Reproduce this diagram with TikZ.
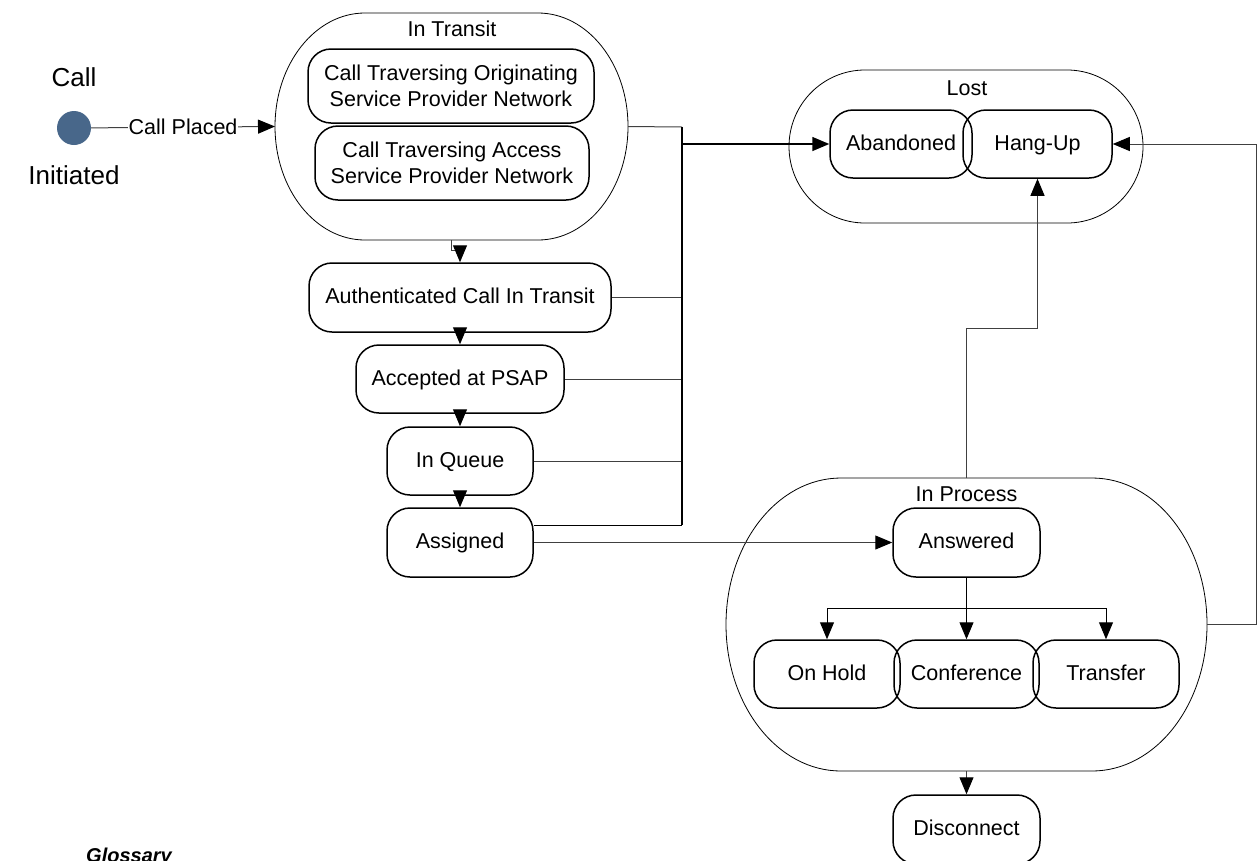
\documentclass[tikz,border=0pt]{standalone}
\usepackage{fontspec}
\setmainfont{Liberation Sans}
\usetikzlibrary{arrows.meta,calc}
\definecolor{initblue}{RGB}{72,103,138}
\newcommand\boxfont{\fontsize{21.5pt}{25.8pt}\selectfont}
\newcommand\bigfont{\fontsize{26pt}{31pt}\selectfont}
% x1 y1 x2 y2 rx ry  (pixel coordinates, y downward)
\newcommand\superstate[6]{%
 \draw[outer] (#1+#5,#2) -- (#3-#5,#2)
   arc[start angle=90,end angle=0,x radius=#5pt,y radius=#6pt] -- (#3,#4-#6)
   arc[start angle=0,end angle=-90,x radius=#5pt,y radius=#6pt] -- (#1+#5,#4)
   arc[start angle=-90,end angle=-180,x radius=#5pt,y radius=#6pt] -- (#1,#2+#6)
   arc[start angle=180,end angle=90,x radius=#5pt,y radius=#6pt] -- cycle;}
\begin{document}
\begin{tikzpicture}[x=1pt,y=-1pt,
 stbox/.style={draw,line width=1.5pt,rounded corners=23pt,inner sep=0pt,align=center,font=\boxfont},
 one/.style={text height=16pt,text depth=4pt},
 outer/.style={line width=0.8pt},
 anchorbox/.style={inner sep=0pt,outer sep=0pt},
 conn/.style={line width=1pt,black!75},
 bus/.style={line width=1.5pt,black},
 arr/.style={-{Triangle[length=17pt,width=14pt,black]}},
 lbl/.style={font=\boxfont,inner sep=0pt},
]
\useasboundingbox (0,0) rectangle (1257,860);

% initial state
\node[circle,fill=initblue,minimum size=34pt,inner sep=0pt] (init) at (74,128) {};
\node[font=\bigfont,inner sep=0pt] (calltxt) at (74,77) {Call};
\node[font=\bigfont,inner sep=0pt] (inittxt) at (74,175) {Initiated};

% super states (outline + anchor nodes)
\node[anchorbox,minimum width=353pt,minimum height=227pt] (transit) at (451.5,126.5) {};
\superstate{275}{13}{628}{240}{90}{113.5}
\node[lbl] (transitlbl) at (452,29) {In Transit};

\node[anchorbox,minimum width=354pt,minimum height=153pt] (lost) at (966,146.5) {};
\superstate{789}{70}{1143}{223}{76}{76.5}
\node[lbl] (lostlbl) at (967,88) {Lost};

\node[anchorbox,minimum width=481pt,minimum height=293pt] (process) at (966.5,624.5) {};
\superstate{726}{478}{1207}{771}{115}{146.5}
\node[lbl] (processlbl) at (966.5,494) {In Process};

% states
\node[stbox,minimum width=286pt,minimum height=74pt] (orig) at (451,86) {Call Traversing Originating\\Service Provider Network};
\node[stbox,minimum width=274pt,minimum height=74pt] (access) at (452,163) {Call Traversing Access\\Service Provider Network};
\node[stbox,one,minimum width=302pt,minimum height=69pt] (auth) at (460,297.5) {Authenticated Call In Transit};
\node[stbox,one,minimum width=208pt,minimum height=68pt] (accept) at (460,379) {Accepted at PSAP};
\node[stbox,one,minimum width=146pt,minimum height=68pt] (queue) at (460,461) {In Queue};
\node[stbox,one,minimum width=146pt,minimum height=69pt] (assigned) at (460,542.5) {Assigned};
\node[stbox,one,minimum width=142pt,minimum height=68pt] (aband) at (901,144) {Abandoned};
\node[stbox,one,minimum width=149pt,minimum height=68pt] (hangup) at (1037.5,144) {Hang-Up};
\node[stbox,one,minimum width=147pt,minimum height=69pt] (answered) at (966.5,542.5) {Answered};
\node[stbox,one,minimum width=146pt,minimum height=68pt] (onhold) at (827,674) {On Hold};
\node[stbox,one,minimum width=145pt,minimum height=68pt] (conf) at (966.5,674) {Conference};
\node[stbox,one,minimum width=146pt,minimum height=68pt] (transfer) at (1106,674) {Transfer};
\node[stbox,one,minimum width=147pt,minimum height=69pt] (disc) at (966.5,829.5) {Disconnect};

\node[anchor=base west,inner sep=0pt,font=\bfseries\itshape\fontsize{20pt}{24pt}\selectfont] (gloss) at (86,862.5) {Glossary};

% connectors
\draw[conn,arr] (init) -- node[fill=white,inner sep=1pt,font=\boxfont,text=black] (placed) {Call Placed} (transit.west);
\draw[conn,arr] (transit.south) -- ++(0,10) -| (auth.north);
\draw[conn,black,arr] (auth) -- (accept);
\draw[conn,black,arr] (accept) -- (queue);
\draw[conn,black,arr] (queue) -- (assigned);

\coordinate (bt) at (682,127);
\coordinate (bo) at (682,144);
\coordinate (bb) at (682,525);
\draw[conn] (transit.east) -- (bt);
\draw[conn] (auth.east) -- (auth.east -| bt);
\draw[conn] (accept.east) -- (accept.east -| bt);
\draw[conn] (queue.east) -- (queue.east -| bt);
\draw[conn,black] ($(assigned.east)+(0,-17.5)$) -- (bb);
\draw[bus] (bt) -- (bb);
\draw[bus,arr] (bo) -- (aband.west);

\draw[conn,arr] (assigned.east) -- (answered.west);

\coordinate (br) at (966.5,608);
\draw[conn,black,arr] (answered.south) -- (conf.north);
\draw[conn,black,arr] (br) -| (onhold.north);
\draw[conn,black,arr] (br) -| (transfer.north);

\draw[conn,arr] (process.north) -- ++(0,-150) -| (hangup.south);
\draw[conn,arr] (process.east) -- ++(49,0) |- (hangup.east);
\draw[conn,arr] (process.south) -- (disc.north);
\end{tikzpicture}
\end{document}
